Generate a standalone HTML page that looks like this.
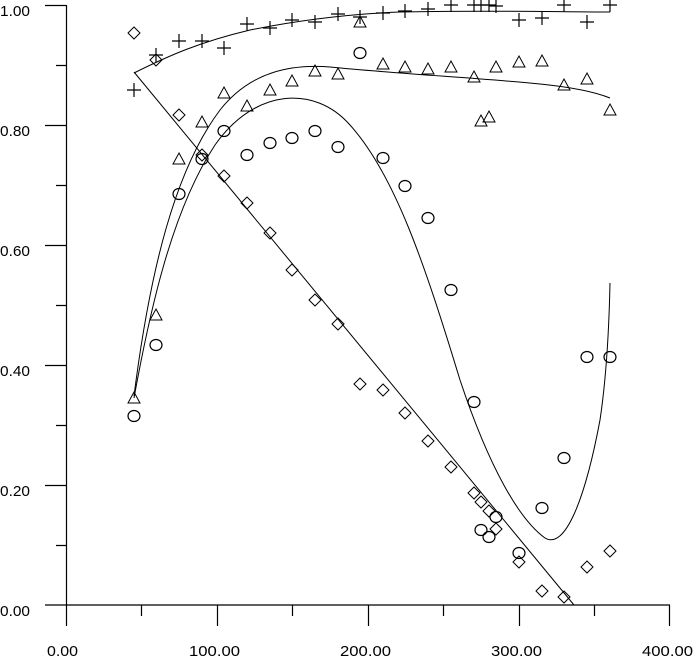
<!DOCTYPE html>
<html><head><style>
html,body{margin:0;padding:0;background:#fff;}
svg{display:block;}
text{font-family:"Liberation Sans Narrow","Liberation Sans",sans-serif;font-size:15px;fill:#000;}
</style></head><body>
<svg width="693" height="661" viewBox="0 0 693 661" xmlns="http://www.w3.org/2000/svg">
<defs>
<path id="d" d="M0,-6 L6,0 L0,6 L-6,0 Z" fill="none" stroke="#000" stroke-width="1"/>
<path id="p" d="M-7,0 H7 M0,-7 V7" fill="none" stroke="#000" stroke-width="1.2"/>
<path id="t" d="M0,-6 L6,5 L-6,5 Z" fill="none" stroke="#000" stroke-width="1"/>
<ellipse id="c" cx="0" cy="0" rx="6" ry="5.5" fill="none" stroke="#000" stroke-width="1.2"/>
</defs>
<g stroke="#000" stroke-width="1.2" fill="none">
<path d="M66.5,5 V605 M45,605 H670"/>
<path d="M45,5.5 H66 M45,125.5 H66 M45,245.5 H66 M45,365.5 H66 M45,485.5 H66"/>
<path d="M56,65.5 H66 M56,185.5 H66 M56,305.5 H66 M56,425.5 H66 M56,545.5 H66"/>
<path d="M66.5,605 V626 M217.5,605 V626 M368.5,605 V626 M519.5,605 V626 M669.5,605 V626"/>
<path d="M141.5,605 V616 M292.5,605 V616 M443.5,605 V616 M594.5,605 V616"/>
</g>
<g>
<text x="0" y="16" textLength="30" lengthAdjust="spacingAndGlyphs">1.00</text>
<text x="0" y="136" textLength="30" lengthAdjust="spacingAndGlyphs">0.80</text>
<text x="0" y="256" textLength="30" lengthAdjust="spacingAndGlyphs">0.60</text>
<text x="0" y="376" textLength="30" lengthAdjust="spacingAndGlyphs">0.40</text>
<text x="0" y="496" textLength="30" lengthAdjust="spacingAndGlyphs">0.20</text>
<text x="0" y="616" textLength="30" lengthAdjust="spacingAndGlyphs">0.00</text>
</g>
<g>
<text x="47" y="656" textLength="31" lengthAdjust="spacingAndGlyphs">0.00</text>
<text x="189" y="656" textLength="51" lengthAdjust="spacingAndGlyphs">100.00</text>
<text x="340" y="656" textLength="51" lengthAdjust="spacingAndGlyphs">200.00</text>
<text x="491" y="656" textLength="51" lengthAdjust="spacingAndGlyphs">300.00</text>
<text x="642" y="656" textLength="51" lengthAdjust="spacingAndGlyphs">400.00</text>
</g>
<g stroke="#000" stroke-width="1" fill="none">
<path d="M134,72 L574,605"/>
<path d="M134,73 C170,55 200,42 250,30 C300,20 350,14 400,12 C480,10 560,12 610,12"/>
<path d="M134,396 C150,270 175,170 220,110 C250,72 290,64 330,67 C400,74 480,78 540,84 C580,88 600,94 610,98"/>
<path d="M134,398 C150,310 172,210 215,145 C255,88 315,85 350,125 C395,175 425,265 460,380 C490,470 520,520 545,538 C565,550 585,500 600,420 C606,380 609,330 610,283"/>
</g>
<g>
<use href="#d" x="134" y="33"/><use href="#d" x="156" y="60"/><use href="#d" x="179" y="115"/><use href="#d" x="202" y="155"/><use href="#d" x="224" y="176"/><use href="#d" x="247" y="203"/><use href="#d" x="270" y="233"/><use href="#d" x="292" y="270"/><use href="#d" x="315" y="300"/><use href="#d" x="338" y="324"/><use href="#d" x="360" y="384"/><use href="#d" x="383" y="390"/><use href="#d" x="405" y="413"/><use href="#d" x="428" y="441"/><use href="#d" x="451" y="467"/><use href="#d" x="474" y="493"/><use href="#d" x="481" y="502"/><use href="#d" x="489" y="511"/><use href="#d" x="496" y="529"/><use href="#d" x="519" y="562"/><use href="#d" x="542" y="591"/><use href="#d" x="564" y="597"/><use href="#d" x="587" y="567"/><use href="#d" x="610" y="551"/>
<use href="#p" x="134" y="90"/><use href="#p" x="156" y="55"/><use href="#p" x="179" y="41"/><use href="#p" x="202" y="41"/><use href="#p" x="224" y="48"/><use href="#p" x="247" y="24"/><use href="#p" x="270" y="28"/><use href="#p" x="292" y="20"/><use href="#p" x="315" y="22"/><use href="#p" x="338" y="14"/><use href="#p" x="360" y="17"/><use href="#p" x="383" y="13"/><use href="#p" x="405" y="11"/><use href="#p" x="428" y="9"/><use href="#p" x="451" y="5"/><use href="#p" x="474" y="5"/><use href="#p" x="481" y="5"/><use href="#p" x="489" y="5"/><use href="#p" x="496" y="6"/><use href="#p" x="519" y="20"/><use href="#p" x="542" y="18"/><use href="#p" x="564" y="5"/><use href="#p" x="587" y="22"/><use href="#p" x="610" y="5"/>
<use href="#t" x="134" y="398"/><use href="#t" x="156" y="315"/><use href="#t" x="179" y="159"/><use href="#t" x="202" y="122"/><use href="#t" x="224" y="93"/><use href="#t" x="247" y="106"/><use href="#t" x="270" y="90"/><use href="#t" x="292" y="81"/><use href="#t" x="315" y="71"/><use href="#t" x="338" y="74"/><use href="#t" x="360" y="22"/><use href="#t" x="383" y="64"/><use href="#t" x="405" y="67"/><use href="#t" x="428" y="69"/><use href="#t" x="451" y="67"/><use href="#t" x="474" y="77"/><use href="#t" x="481" y="121"/><use href="#t" x="489" y="117"/><use href="#t" x="496" y="67"/><use href="#t" x="519" y="62"/><use href="#t" x="542" y="61"/><use href="#t" x="564" y="85"/><use href="#t" x="587" y="79"/><use href="#t" x="610" y="110"/>
<use href="#c" x="134" y="416"/><use href="#c" x="156" y="345"/><use href="#c" x="179" y="194"/><use href="#c" x="202" y="159"/><use href="#c" x="224" y="131"/><use href="#c" x="247" y="155"/><use href="#c" x="270" y="143"/><use href="#c" x="292" y="138"/><use href="#c" x="315" y="131"/><use href="#c" x="338" y="147"/><use href="#c" x="360" y="53"/><use href="#c" x="383" y="158"/><use href="#c" x="405" y="186"/><use href="#c" x="428" y="218"/><use href="#c" x="451" y="290"/><use href="#c" x="474" y="402"/><use href="#c" x="481" y="530"/><use href="#c" x="489" y="537"/><use href="#c" x="496" y="517"/><use href="#c" x="519" y="553"/><use href="#c" x="542" y="508"/><use href="#c" x="564" y="458"/><use href="#c" x="587" y="357"/><use href="#c" x="610" y="357"/>
</g>
</svg>
</body></html>
